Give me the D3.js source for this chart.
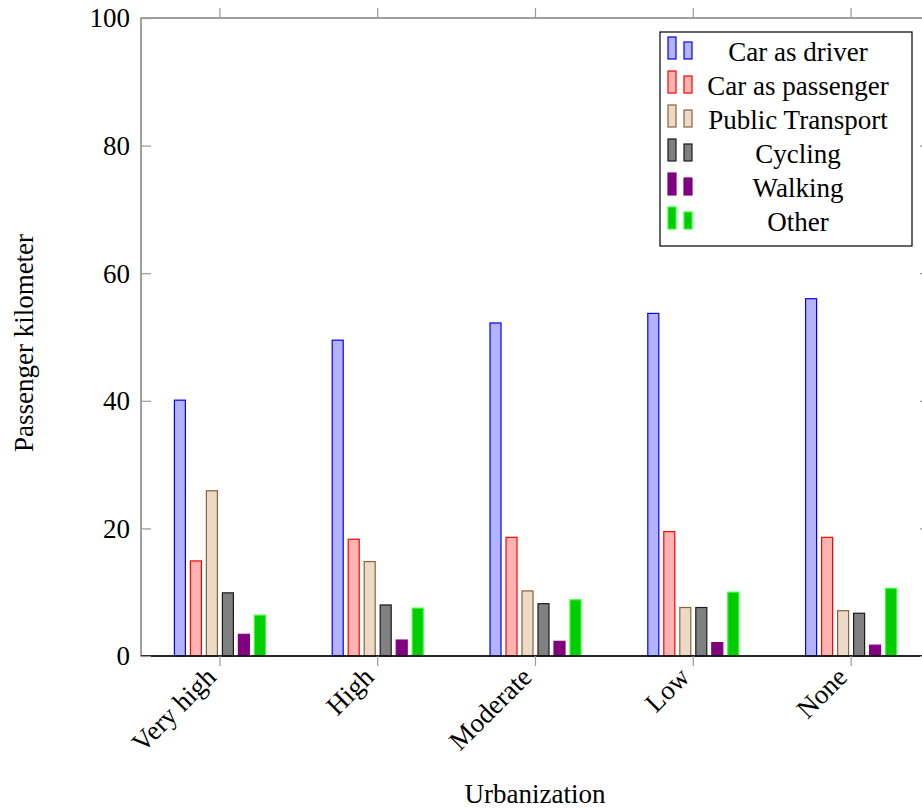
<!DOCTYPE html>
<html>
<head>
	<title> passenger km by urbanization </title>
	<script src="https://d3js.org/d3.v7.min.js"></script>
	<style>
		body { margin: 0; background: white; }
		text { font-family: "Liberation Serif", "DejaVu Serif", serif; fill: black; }
	</style>
</head>

<body>
	<div id="vis">
		<svg> </svg>
	</div>

	<script type="text/javascript">

		// values
		const categories = ["Very high", "High", "Moderate", "Low", "None"];
		const modes = ["Car as driver", "Car as passenger", "Public Transport", "Cycling", "Walking", "Other"];
		const carDriver = [40.1, 49.5, 52.2, 53.7, 56.0];
		const carPassenger = [14.9, 18.3, 18.6, 19.5, 18.6];
		const publicTransport = [25.9, 14.8, 10.2, 7.6, 7.1];
		const cycling = [9.9, 8.0, 8.2, 7.6, 6.7];
		const walking = [3.4, 2.5, 2.3, 2.1, 1.7];
		const other = [6.4, 7.5, 8.8, 10.0, 10.6];
		const yTicks = [0, 20, 40, 60, 80, 100];

		const fills = ["#b3b3ff", "#ffb3b3", "#ecd9c6", "#808080", "#800080", "#00cc00"];
		const strokes = ["#0000ff", "#ff0000", "#8c6239", "#1a1a1a", "#800080", "#33ff33"];

		function plot() {
			var w = 922;
			var h = 809;

			const left_border = 141;
			const right_edge = 930;   // frame runs a bit past the window
			const top_border = 18;
			const bottom_line = 656;

			const bar_w = 11;
			const bar_step = 16;
			const tick_len = 10;
			const fsize = "27px";

			const series = [carDriver, carPassenger, publicTransport, cycling, walking, other];

			const svg = d3.select("svg").attr("width", w).attr("height", h);

			let x_scale = d3.scaleBand().domain(categories).range([left_border, right_edge]);
			let y_scale = d3.scaleLinear().domain([0, 100]).range([bottom_line, top_border]);

			// bars
			series.forEach(function(vals, i) {
				svg.append("g").selectAll("rect").data(vals).join("rect")
					.attr("x", function(d, j){ return x_scale(categories[j]) + x_scale.bandwidth() / 2 + (i - 2.5) * bar_step - bar_w / 2; })
					.attr("y", function(d){ return y_scale(d); })
					.attr("width", bar_w)
					.attr("height", function(d){ return y_scale(0) - y_scale(d); })
					.style("fill", fills[i])
					.style("stroke", strokes[i])
					.style("stroke-width", 1.2);
			});

			// frame
			svg.append("rect")
				.attr("x", left_border).attr("y", top_border)
				.attr("width", right_edge - left_border).attr("height", bottom_line - top_border)
				.style("fill", "none").style("stroke", "#6e6e6e").style("stroke-width", 1.3);
			svg.append("line")
				.attr("x1", left_border).attr("x2", right_edge)
				.attr("y1", bottom_line).attr("y2", bottom_line)
				.style("stroke", "black").style("stroke-width", 1.5);

			// y axis left, ticks inward
			var yaxis = d3.axisLeft(y_scale).tickValues(yTicks).tickSizeInner(-tick_len).tickSizeOuter(0).tickPadding(11);
			const gy = svg.append("g").attr("transform", "translate(" + left_border + ",0)").call(yaxis);
			gy.select(".domain").remove();
			gy.selectAll("line").style("stroke", "#999").style("stroke-width", 1.2);
			gy.selectAll("text").style("font-size", fsize).attr("dy", "0.33em").style("font-family", "Liberation Serif");

			// y axis right, ticks only
			var yaxis2 = d3.axisRight(y_scale).tickValues(yTicks).tickSizeInner(-tick_len).tickSizeOuter(0).tickFormat("");
			const gy2 = svg.append("g").attr("transform", "translate(" + right_edge + ",0)").call(yaxis2);
			gy2.select(".domain").remove();
			gy2.selectAll("line").style("stroke", "#999").style("stroke-width", 1.2);

			// x axis bottom, ticks outward
			var xaxis = d3.axisBottom(x_scale).tickSizeInner(tick_len).tickSizeOuter(0).tickFormat("");
			const gx = svg.append("g").attr("transform", "translate(0," + bottom_line + ")").call(xaxis);
			gx.select(".domain").remove();
			gx.selectAll("line").style("stroke", "#999").style("stroke-width", 1.2);

			// x axis top, ticks outward
			var xaxis2 = d3.axisTop(x_scale).tickSizeInner(tick_len).tickSizeOuter(0).tickFormat("");
			const gx2 = svg.append("g").attr("transform", "translate(0," + top_border + ")").call(xaxis2);
			gx2.select(".domain").remove();
			gx2.selectAll("line").style("stroke", "#999").style("stroke-width", 1.2);

			// rotated category labels
			svg.append("g").selectAll("text").data(categories).join("text")
				.attr("transform", function(d){ return "translate(" + (x_scale(d) + x_scale.bandwidth() / 2 - 9) + "," + (bottom_line + 16) + ") rotate(-45)"; })
				.attr("text-anchor", "end")
				.attr("dy", "0.35em")
				.style("font-size", fsize)
				.text(function(d){ return d; });

			// axis titles
			svg.append("text")
				.attr("x", 535).attr("y", 803)
				.attr("text-anchor", "middle")
				.style("font-size", fsize)
				.text("Urbanization");
			svg.append("text")
				.attr("transform", "translate(33,343) rotate(-90)")
				.attr("text-anchor", "middle")
				.style("font-size", fsize)
				.text("Passenger kilometer");

			// legend
			const lg = svg.append("g");
			lg.append("rect")
				.attr("x", 660).attr("y", 32).attr("width", 252).attr("height", 214)
				.style("fill", "white").style("stroke", "black").style("stroke-width", 1.2);
			let row_scale = d3.scalePoint().domain(modes).range([53, 223]);
			const rows = lg.selectAll("g").data(modes).join("g")
				.attr("transform", function(d){ return "translate(0," + row_scale(d) + ")"; });
			rows.append("rect")
				.attr("x", 668).attr("y", -16).attr("width", 8).attr("height", 22)
				.style("fill", function(d, i){ return fills[i]; })
				.style("stroke", function(d, i){ return strokes[i]; }).style("stroke-width", 1.2);
			rows.append("rect")
				.attr("x", 684).attr("y", -11).attr("width", 8).attr("height", 17)
				.style("fill", function(d, i){ return fills[i]; })
				.style("stroke", function(d, i){ return strokes[i]; }).style("stroke-width", 1.2);
			rows.append("text")
				.attr("x", 798).attr("y", 0)
				.attr("dy", "0.3em")
				.attr("text-anchor", "middle")
				.style("font-size", fsize)
				.text(function(d){ return d; });
		}

		plot();

	</script>
</body>
</html>
